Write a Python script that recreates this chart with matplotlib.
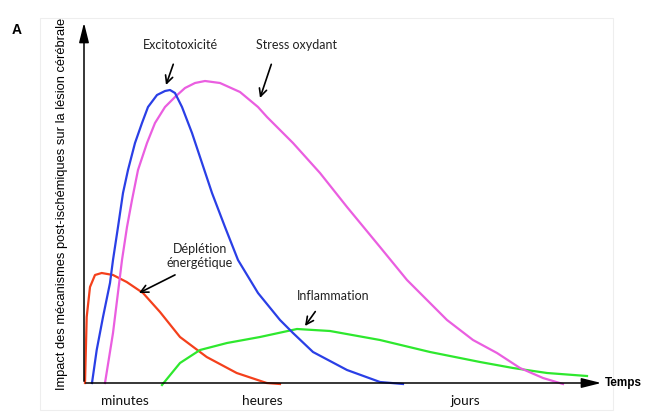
import matplotlib
matplotlib.use("Agg")
import matplotlib.pyplot as plt
from matplotlib.patches import Rectangle

# schematic values (time in px-like units, impact above baseline)
red_t = [85, 86.7, 90, 95, 101.7, 113, 126.7, 143, 160, 180, 206.7, 236.7, 266.7, 280]
red_y = [0, 66, 96, 108, 110, 108, 101, 90, 71, 46, 26, 10, 0, -1]

blue_t = [92, 96.7, 103, 110, 113, 118, 123, 128, 135, 142, 148, 157, 165, 170, 175, 182,
          192, 202, 212, 225, 238, 258, 280, 293, 313, 347, 380, 403]
blue_y = [0, 33, 66, 100, 123, 156, 190, 213, 240, 260, 276, 288, 292, 293, 290, 276,
          250, 220, 190, 156, 123, 90, 63, 50, 31, 13, 1, -1]

mag_t = [105, 113, 122, 127, 132, 138, 147, 155, 165, 175, 185, 195, 205, 220, 240, 258,
         267, 293, 320, 347, 380, 407, 427, 447, 473, 497, 520, 543, 563]
mag_y = [0, 50, 123, 156, 183, 213, 240, 260, 276, 286, 295, 300, 302, 300, 291, 276,
         266, 240, 210, 176, 136, 103, 83, 63, 43, 30, 15, 5, -1]

green_t = [162, 180, 200, 227, 260, 297, 330, 380, 430, 480, 513, 547, 587]
green_y = [-2, 20, 33, 40, 46, 54, 52, 43, 31, 21, 15, 10, 7]

period_labels = ["minutes", "heures", "jours"]
period_pos = [125, 262, 465]

fig = plt.figure(figsize=(6.45, 4.19), dpi=100)
ax = fig.add_axes([0, 0, 1, 1])
ax.set_xlim(0, 645)
ax.set_ylim(383 - 419, 383)
ax.axis("off")

# faint frame
ax.add_patch(Rectangle((40, 383 - 410), 573, 392, fill=False, edgecolor="#eeeeee", lw=0.8))

lw = 1.6
ax.plot(red_t, red_y, color="#f4401c", lw=lw)
ax.plot(green_t, green_y, color="#2ee82e", lw=lw)
ax.plot(mag_t, mag_y, color="#ea5ee0", lw=lw)
ax.plot(blue_t, blue_y, color="#2a3fe6", lw=lw)

# axes arrows
ax.annotate("", xy=(84, 383 - 20), xytext=(84, -1),
            arrowprops=dict(arrowstyle="-|>,head_length=1.2,head_width=0.3", color="black", lw=1.1))
ax.annotate("", xy=(604, 0), xytext=(83, 0),
            arrowprops=dict(arrowstyle="-|>,head_length=1.2,head_width=0.3", color="black", lw=1.1))

ax.text(605, 0, "Temps", fontsize=8.5, fontweight="bold", va="center", ha="left",
        family="Liberation Sans")
ax.text(12, 383 - 30, "A", fontsize=10, fontweight="bold", va="center", ha="left",
        family="Liberation Sans")
ax.text(62, 383 - 204, "Impact des mécanismes post-ischémiques sur la lésion cérébrale",
        rotation=90, fontsize=9.3, va="center", ha="center", family="Liberation Sans")

for lab, p in zip(period_labels, period_pos):
    ax.text(p, 383 - 401, lab, fontsize=9.8, ha="center", va="center", family="Lato",
            color="#111111")

arrow = dict(arrowstyle="->,head_length=0.6,head_width=0.3", color="black", lw=1.2)
font = dict(fontsize=9, ha="center", va="center", family="Lato", color="#222222")
ax.annotate("Excitotoxicité", xy=(166, 383 - 85), xytext=(180, 383 - 45),
            arrowprops=dict(arrow, shrinkA=8, shrinkB=0), **font)
ax.annotate("Stress oxydant", xy=(260, 383 - 98), xytext=(296, 383 - 45),
            arrowprops=dict(arrow, shrinkA=8, shrinkB=0, relpos=(0.25, 0)), **font)
ax.annotate("Déplétion\nénergétique", xy=(139, 383 - 293), xytext=(200, 383 - 256),
            arrowprops=dict(arrow, shrinkA=5, shrinkB=0, relpos=(0.3, 0)),
            linespacing=1.2, **font)
ax.annotate("Inflammation", xy=(305, 383 - 326), xytext=(333, 383 - 296),
            arrowprops=dict(arrow, shrinkA=6, shrinkB=0, relpos=(0.35, 0)), **font)

fig.savefig("out.png", dpi=100)
